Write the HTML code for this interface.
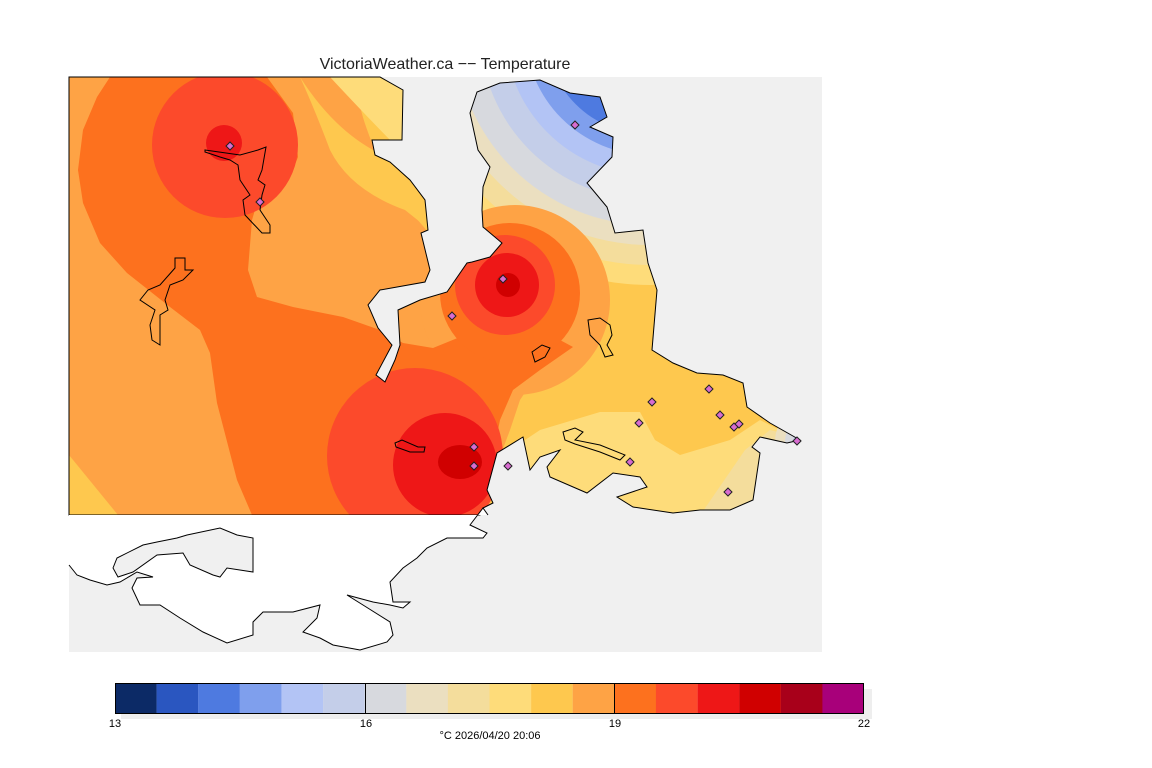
<!DOCTYPE html>
<html><head><meta charset="utf-8"><style>
html,body{margin:0;padding:0;background:#fff;width:1152px;height:768px;overflow:hidden}
svg{display:block}
text{font-family:"Liberation Sans",sans-serif}
</style></head><body>
<svg width="1152" height="768" viewBox="0 0 1152 768" xmlns="http://www.w3.org/2000/svg">
<defs>
<clipPath id="cp"><path id="pp" d="M69,77 L380,77 403,90 402,140 372,140 375,155 390,162 410,180 425,200 428,230 421,233 430,270 425,282 380,290 368,305 378,328 392,345 376,375 385,382 395,360 400,345 398,310 420,300 447,292 467,263 472,262 490,257 502,243 483,227 482,210 483,187 490,167 478,150 470,113 477,92 500,83 540,80 570,93 600,97 607,117 590,127 613,137 612,157 587,183 607,207 615,233 643,230 648,263 657,290 652,350 673,363 697,373 723,375 743,383 747,407 770,423 800,440 787,443 760,437 752,447 760,453 753,500 730,510 700,510 673,513 633,507 617,497 647,487 640,477 613,473 587,493 550,477 547,467 560,450 540,457 530,470 523,437 497,453 487,490 493,503 483,508 480,515 69,515 Z"/></clipPath>
</defs>
<rect x="69" y="77" width="753" height="575" fill="#f0f0f0"/>
<g clip-path="url(#cp)">
<rect x="60" y="70" width="780" height="460" fill="#fea345"/>
<path d="M488,515 495,470 510,430 520,400 540,370 600,250 700,250 830,300 830,530 488,530Z" fill="#fec84e"/>
<path d="M495,460 540,430 600,412 640,412 655,440 680,455 730,440 760,420 800,440 800,530 495,530Z" fill="#fedc7a"/>
<path d="M690,530 745,450 770,430 810,440 810,530Z" fill="#f4dd9c"/>
<circle cx="815" cy="442" r="40" fill="#ebdfc0"/>
<circle cx="815" cy="442" r="30" fill="#d7d9de"/>
<circle cx="815" cy="442" r="22" fill="#c4cee9"/>
<circle cx="815" cy="442" r="14" fill="#7f9fed"/>
<polygon points="69,455 69,515 118,515" fill="#fec84e"/>
<circle cx="650" cy="30" r="300" fill="#fec84e"/>
<circle cx="650" cy="30" r="255" fill="#fedc7a"/>
<circle cx="650" cy="30" r="235" fill="#f4dd9c"/>
<circle cx="650" cy="30" r="215" fill="#ebdfc0"/>
<circle cx="650" cy="30" r="195" fill="#d7d9de"/>
<circle cx="650" cy="30" r="170" fill="#c4cee9"/>
<circle cx="650" cy="30" r="145" fill="#b3c4f5"/>
<circle cx="650" cy="30" r="125" fill="#7f9fed"/>
<circle cx="650" cy="30" r="105" fill="#4e7ae0"/>
<circle cx="650" cy="30" r="80" fill="#2a56c0"/>
<path d="M330,77 Q370,120 400,150 L430,130 430,77Z" fill="#fedc7a"/>
<path d="M300,77 Q340,140 395,160 L430,200 430,230 405,210 Q350,190 330,150 Q315,110 300,77Z" fill="#fec84e"/>
<circle cx="515" cy="300" r="95" fill="#fea345"/>
<path d="M110,77 L267,77 293,113 298,157 290,177 260,193 252,220 248,270 257,297 293,307 343,317 380,330 403,343 433,348 460,337 467,317 457,300 480,300 560,340 573,347 540,370 513,390 500,420 490,470 483,500 480,515 252,515 237,480 217,403 210,353 200,330 170,307 127,273 100,243 83,203 78,170 83,130 97,97Z" fill="#fd711e"/>
<circle cx="510" cy="293" r="70" fill="#fd711e"/>
<circle cx="505" cy="285" r="50" fill="#fc4a2b"/>
<circle cx="507" cy="285" r="32" fill="#ee1717"/>
<circle cx="508" cy="285" r="12" fill="#d00000"/>
<circle cx="225" cy="145" r="73" fill="#fc4a2b"/>
<circle cx="224" cy="143" r="18" fill="#ee1717"/>
<circle cx="415" cy="456" r="88" fill="#fc4a2b"/>
<circle cx="445" cy="465" r="52" fill="#ee1717"/>
<ellipse cx="460" cy="462" rx="22" ry="17" fill="#d00000"/>
</g>
<use href="#pp" fill="none" stroke="#000" stroke-width="1"/>
<path d="M69,515 L488,515 483,508 470,525 487,533 483,538 447,538 427,548 417,558 403,568 390,582 393,602 410,602 403,608 390,605 373,602 347,595 363,605 390,622 393,635 387,642 360,650 333,645 320,638 303,632 317,618 320,605 293,612 263,612 253,622 253,635 227,643 203,632 180,618 160,605 140,605 132,588 137,578 153,577 137,572 120,582 107,585 90,580 77,575 69,565Z M113,568 117,558 143,545 157,542 177,538 187,535 220,528 237,535 253,538 253,572 227,568 220,577 213,575 190,565 183,553 157,555 133,572 118,577Z" fill="#fff" fill-rule="evenodd"/>
<path d="M488,515 483,508 470,525 487,533 483,538 447,538 427,548 417,558 403,568 390,582 393,602 410,602 403,608 390,605 373,602 347,595 363,605 390,622 393,635 387,642 360,650 333,645 320,638 303,632 317,618 320,605 293,612 263,612 253,622 253,635 227,643 203,632 180,618 160,605 140,605 132,588 137,578 153,577 137,572 120,582 107,585 90,580 77,575 69,565 M113,568 117,558 143,545 157,542 177,538 187,535 220,528 237,535 253,538 253,572 227,568 220,577 213,575 190,565 183,553 157,555 133,572 118,577Z" fill="none" stroke="#000" stroke-width="1"/>
<g fill="none" stroke="#000" stroke-width="1">
<path d="M175,258 185,258 185,270 193,270 183,280 170,285 165,300 168,310 160,315 160,345 152,340 150,325 155,310 140,300 148,290 160,285 175,268Z"/>
<path d="M205,150 240,155 258,150 266,147 262,170 258,180 265,185 262,195 260,210 270,225 270,233 262,233 245,215 243,200 250,195 240,180 238,165 230,160 220,157 205,152Z"/>
<path d="M395,443 402,440 418,447 425,447 424,452 410,452 396,447Z"/>
<path d="M588,320 600,318 610,325 612,335 607,345 613,355 605,357 600,345 590,335Z"/>
<path d="M532,352 542,345 550,348 545,357 535,362Z"/>
<path d="M563,432 575,428 583,432 575,440 600,445 625,455 620,460 600,452 575,444 565,440Z"/>
</g>
<g fill="#d86cd0" stroke="#222" stroke-width="1">
<path d="M230,142 l4,4 -4,4 -4,-4Z"/><path d="M260,198 l4,4 -4,4 -4,-4Z"/>
<path d="M474,443 l4,4 -4,4 -4,-4Z"/><path d="M474,462 l4,4 -4,4 -4,-4Z"/>
<path d="M452,312 l4,4 -4,4 -4,-4Z"/><path d="M503,275 l4,4 -4,4 -4,-4Z"/>
<path d="M575,121 l4,4 -4,4 -4,-4Z"/><path d="M508,462 l4,4 -4,4 -4,-4Z"/>
<path d="M652,398 l4,4 -4,4 -4,-4Z"/><path d="M639,419 l4,4 -4,4 -4,-4Z"/>
<path d="M709,385 l4,4 -4,4 -4,-4Z"/><path d="M720,411 l4,4 -4,4 -4,-4Z"/>
<path d="M734,423 l4,4 -4,4 -4,-4Z"/><path d="M739,420 l4,4 -4,4 -4,-4Z"/>
<path d="M797,437 l4,4 -4,4 -4,-4Z"/><path d="M728,488 l4,4 -4,4 -4,-4Z"/>
<path d="M630,458 l4,4 -4,4 -4,-4Z"/>
</g>
<text x="445" y="69" font-size="16" text-anchor="middle" fill="#222">VictoriaWeather.ca −− Temperature</text>
<rect x="121" y="689" width="751" height="30" fill="#eeeeee"/>
<g>
<rect x="115.0" y="683" width="41.7" height="30" fill="#0c2a66"/>
<rect x="156.6" y="683" width="41.7" height="30" fill="#2a56c0"/>
<rect x="198.2" y="683" width="41.7" height="30" fill="#4e7ae0"/>
<rect x="239.8" y="683" width="41.7" height="30" fill="#7f9fed"/>
<rect x="281.4" y="683" width="41.7" height="30" fill="#b3c4f5"/>
<rect x="323.1" y="683" width="41.7" height="30" fill="#c4cee9"/>
<rect x="364.7" y="683" width="41.7" height="30" fill="#d7d9de"/>
<rect x="406.3" y="683" width="41.7" height="30" fill="#ebdfc0"/>
<rect x="447.9" y="683" width="41.7" height="30" fill="#f4dd9c"/>
<rect x="489.5" y="683" width="41.7" height="30" fill="#fedc7a"/>
<rect x="531.1" y="683" width="41.7" height="30" fill="#fec84e"/>
<rect x="572.7" y="683" width="41.7" height="30" fill="#fea345"/>
<rect x="614.3" y="683" width="41.7" height="30" fill="#fd711e"/>
<rect x="655.9" y="683" width="41.7" height="30" fill="#fc4a2b"/>
<rect x="697.6" y="683" width="41.7" height="30" fill="#ee1717"/>
<rect x="739.2" y="683" width="41.7" height="30" fill="#d00000"/>
<rect x="780.8" y="683" width="41.7" height="30" fill="#a8001a"/>
<rect x="822.4" y="683" width="41.6" height="30" fill="#a8007a"/>
</g>
<rect x="115.5" y="683.5" width="748" height="30" fill="none" stroke="#000"/>
<line x1="365.5" y1="683" x2="365.5" y2="713" stroke="#000"/>
<line x1="614.5" y1="683" x2="614.5" y2="713" stroke="#000"/>
<g font-size="11" fill="#000" text-anchor="middle">
<text x="115" y="727">13</text><text x="366" y="727">16</text><text x="615" y="727">19</text><text x="864" y="727">22</text>
<text x="490" y="739">°C  2026/04/20 20:06</text>
</g>
</svg>
</body></html>
